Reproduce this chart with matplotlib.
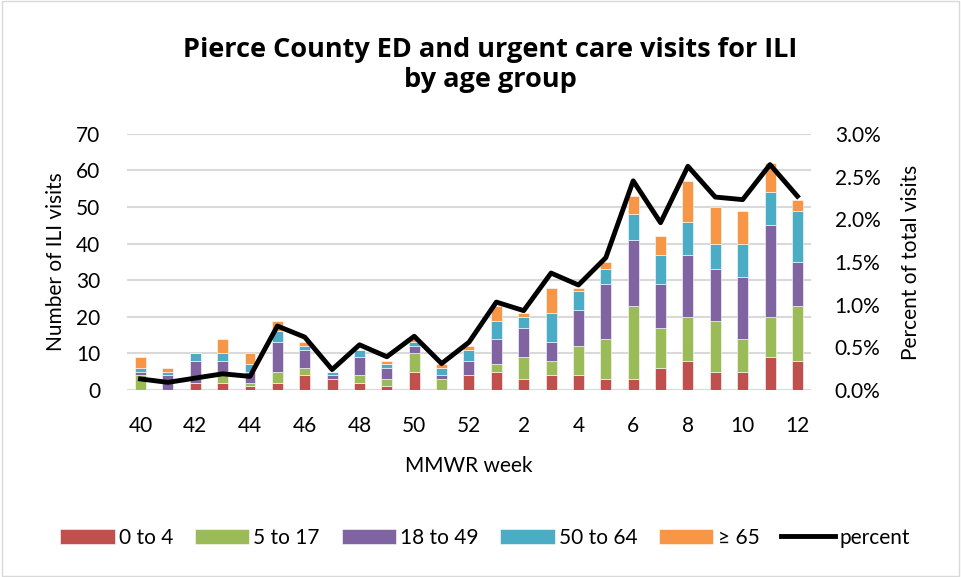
import matplotlib
matplotlib.use("Agg")
import matplotlib.pyplot as plt
import numpy as np
from matplotlib.patches import Rectangle

plt.rcParams["font.family"] = ["Lato", "DejaVu Sans"]

weeks = [40, 41, 42, 43, 44, 45, 46, 47, 48, 49, 50, 51, 52,
         1, 2, 3, 4, 5, 6, 7, 8, 9, 10, 11, 12]
age_0_4 = [0, 0, 2, 2, 1, 2, 4, 3, 2, 1, 5, 0, 4,
           5, 3, 4, 4, 3, 3, 6, 8, 5, 5, 9, 8]
age_5_17 = [4, 0, 0, 2, 1, 3, 2, 0, 2, 2, 5, 3, 0,
            2, 6, 4, 8, 11, 20, 11, 12, 14, 9, 11, 15]
age_18_49 = [1, 4, 6, 4, 3, 8, 5, 1, 5, 3, 2, 1, 4,
             7, 8, 5, 10, 15, 18, 12, 17, 14, 17, 25, 12]
age_50_64 = [1, 1, 2, 2, 2, 3, 1, 1, 2, 1, 1, 2, 3,
             5, 3, 8, 5, 4, 7, 8, 9, 7, 9, 9, 14]
age_65 = [3, 1, 0, 4, 3, 3, 1, 0, 0, 1, 1, 1, 1,
          4, 1, 7, 1, 2, 5, 5, 11, 10, 9, 8, 3]
percent = [0.13, 0.09, 0.14, 0.19, 0.16, 0.75, 0.62, 0.24, 0.53, 0.39, 0.63, 0.31, 0.56,
           1.03, 0.93, 1.37, 1.23, 1.55, 2.45, 1.96, 2.62, 2.26, 2.23, 2.64, 2.27]

series = [
    ("0 to 4", age_0_4, "#C0504D"),
    ("5 to 17", age_5_17, "#9BBB59"),
    ("18 to 49", age_18_49, "#8064A2"),
    ("50 to 64", age_50_64, "#4BACC6"),
    ("\u2265 65", age_65, "#F79646"),
]

fig = plt.figure(figsize=(9.61, 5.77), dpi=100)
fig.patches.append(Rectangle((0.002, 0.002), 0.996, 0.996, transform=fig.transFigure,
                             fill=False, edgecolor="#D9D9D9", linewidth=1))
ax = fig.add_axes([0.132, 0.324, 0.712, 0.444])

x = np.arange(len(weeks))
bottom = np.zeros(len(weeks))
handles = []
for label, vals, color in series:
    vals = np.array(vals, dtype=float)
    b = ax.bar(x, vals, 0.4, bottom=bottom, color=color, edgecolor="white",
               linewidth=0.4, label=label, zorder=3)
    handles.append(b)
    bottom += vals

ax.set_ylim(0, 70)
ax.set_xlim(-0.5, len(weeks) - 0.5)
ax.set_yticks(range(0, 71, 10))
ax.set_xticks(x[::2])
ax.set_xticklabels([str(w) for w in weeks[::2]])
ax.grid(axis="y", color="#D9D9D9", linewidth=1.5, zorder=0)
ax.set_axisbelow(True)
for s in ax.spines.values():
    s.set_visible(False)
ax.tick_params(axis="y", length=0, labelsize=15, pad=19)
ax.tick_params(axis="x", length=0, labelsize=15, pad=19)
ax.set_ylabel("Number of ILI visits", fontsize=15)
ax.yaxis.set_label_coords(-0.089, 0.5)
ax.set_xlabel("MMWR week", fontsize=15)
ax.xaxis.set_label_coords(0.5, -0.258)

ax2 = ax.twinx()
line, = ax2.plot(x, percent, color="black", linewidth=3.5, label="percent", zorder=4)
ax2.set_ylim(0, 3.0)
ax2.set_yticks(np.arange(0, 3.01, 0.5))
ax2.set_yticklabels([f"{v:.1f}%" for v in np.arange(0, 3.01, 0.5)])
for s in ax2.spines.values():
    s.set_visible(False)
ax2.tick_params(length=0, labelsize=15, pad=17)
ax2.set_ylabel("Percent of total visits", fontsize=15)
ax2.yaxis.set_label_coords(1.131, 0.5)

fig.text(0.51, 0.887, "Pierce County ED and urgent care visits for ILI\nby age group",
         ha="center", va="center", fontsize=19.5, fontweight="bold",
         family=["Open Sans", "DejaVu Sans"], linespacing=1.2)

fig.legend(handles + [line], [s[0] for s in series] + ["percent"],
           loc="center", bbox_to_anchor=(0.505, 0.068), ncol=6, frameon=False,
           fontsize=15, handlelength=2.6, handleheight=0.8, handletextpad=0.2,
           columnspacing=1.05)

fig.savefig("out.png", dpi=100)
